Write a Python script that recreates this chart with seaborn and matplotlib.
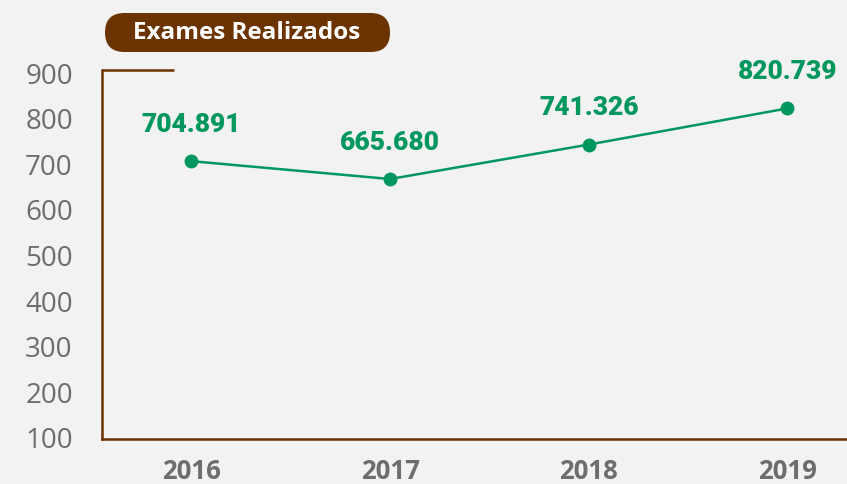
import pandas as pd
import matplotlib.pyplot as plt
import seaborn as sns
from matplotlib.patches import FancyBboxPatch
from matplotlib.transforms import IdentityTransform

# values (thousands of exams)
years = [2016, 2017, 2018, 2019]
exams = [704.891, 665.680, 741.326, 820.739]
labels = ["704.891", "665.680", "741.326", "820.739"]
yticks = [100, 200, 300, 400, 500, 600, 700, 800, 900]

brown = "#6b3300"
green = "#00975e"
grey = "#6d6d70"
bg = "#f2f2f2"

df = pd.DataFrame({"Ano": years, "Exames": exams})

sns.set_style("white")
fig = plt.figure(figsize=(8.47, 4.85), dpi=100, facecolor=bg)
ax = fig.add_axes([0.1204, 0.0928, 0.8796, 0.7608])
ax.set_facecolor(bg)

sns.lineplot(x="Ano", y="Exames", data=df, color=green, linewidth=1.8,
             marker="o", markersize=10, markeredgewidth=0, ax=ax)

for x, y, t in zip(years, exams, labels):
    ax.annotate(t, (x, y), xytext=(0, 27), textcoords="offset points",
                ha="center", va="center", color=green, fontsize=19,
                fontweight="heavy", family="Roboto")

ax.set_xlim(2015.55, 2019.3)
ax.set_ylim(95, 905)
ax.set_xticks(years)
ax.set_xticklabels([str(y) for y in years], fontsize=18.5, fontweight="bold",
                   color=grey, family="Open Sans")
ax.set_yticks(yticks)
ax.set_yticklabels([str(v) for v in yticks], fontsize=20, color=grey,
                   family="Open Sans")
ax.tick_params(axis="both", length=0)
ax.tick_params(axis="y", pad=21)
ax.tick_params(axis="x", pad=13)
ax.set_xlabel("")
ax.set_ylabel("")

for s in ["top", "right"]:
    ax.spines[s].set_visible(False)
for s in ["left", "bottom"]:
    ax.spines[s].set_color(brown)
    ax.spines[s].set_linewidth(1.8)
ax.plot([0, 0.097], [1, 1], transform=ax.transAxes, color=brown,
        linewidth=1.8, clip_on=False, solid_capstyle="butt")

# title pill (pixel coordinates, origin bottom-left)
pill = FancyBboxPatch((105, 432), 285, 39,
                      boxstyle="round,pad=0,rounding_size=19.5",
                      transform=IdentityTransform(), facecolor=brown,
                      edgecolor="none")
fig.patches.append(pill)
fig.text(0.2916, 0.932, "Exames Realizados", ha="center", va="center",
         color="white", fontsize=17.5, fontweight="bold", family="Open Sans")

plt.savefig("out.png", dpi=100, facecolor=bg)
